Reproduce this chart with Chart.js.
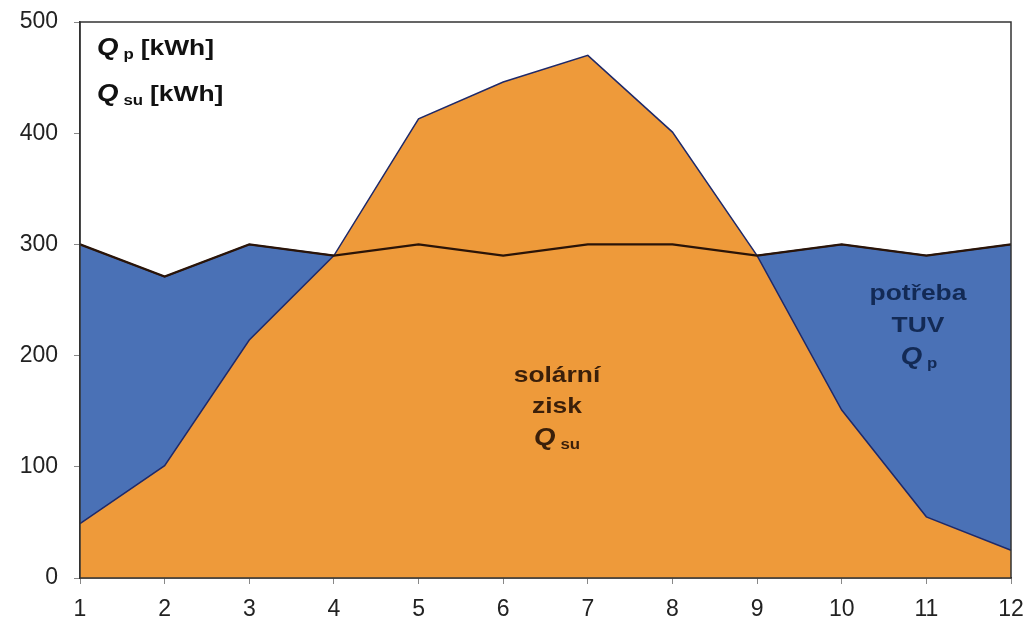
<!DOCTYPE html>
<html>
<head>
<meta charset="utf-8">
<script src="https://cdn.jsdelivr.net/npm/chart.js@4"></script>
<style>
  body { margin: 0; background: #fff; }
  #wrap { width: 1030px; height: 629px; }
</style>
</head>
<body>
<div id="wrap"><canvas id="myChart"></canvas></div>
<script>
// months
const months = ['1', '2', '3', '4', '5', '6', '7', '8', '9', '10', '11', '12'];
// potreba TUV Qp [kWh]
const qp = [300, 271, 300, 290, 300, 290, 300, 300, 290, 300, 290, 300];
// solarni zisk Qsu [kWh]
const qsu = [49, 101, 214, 290, 413, 446, 470, 401, 290, 151, 55, 25];
const yTicks = [0, 100, 200, 300, 400, 500];

const blue = '#4a71b6';
const orange = '#ee9a3a';
const fam = '"Liberation Sans", Arial, sans-serif';
const stretch = 1.2; // labels in the picture are a bit wide

// one line of text, stretched horizontally
function wideText(ctx, txt, x, y, font, color, align) {
    ctx.save();
    ctx.translate(x, y);
    ctx.scale(stretch, 1);
    ctx.font = font;
    ctx.fillStyle = color;
    ctx.textAlign = align;
    ctx.textBaseline = 'alphabetic';
    ctx.fillText(txt, 0, 0);
    ctx.restore();
}

// Q with subscript (and optional text after)
function drawQ(ctx, x, y, sub, rest, color, align) {
    const qFont = 'italic bold 23px ' + fam;
    const subFont = 'bold 14px ' + fam;
    const restFont = 'bold 22px ' + fam;
    ctx.font = qFont;
    const wq = ctx.measureText('Q').width * stretch;
    ctx.font = subFont;
    const ws = ctx.measureText(sub).width * stretch;
    ctx.font = restFont;
    const wr = rest ? ctx.measureText(rest).width * stretch : 0;
    let total = wq + 5 + ws + (rest ? 7 + wr : 0);
    let sx = align === 'center' ? x - total / 2 : x;
    wideText(ctx, 'Q', sx, y, qFont, color, 'left');
    wideText(ctx, sub, sx + wq + 5, y + 4, subFont, color, 'left');
    if (rest) {
        wideText(ctx, rest, sx + wq + 5 + ws + 7, y, restFont, color, 'left');
    }
}

const textPlugin = {
    id: 'texty',
    afterDatasetsDraw(chart) {
        const ctx = chart.ctx;
        const a = chart.chartArea;
        ctx.save();
        // frame box
        ctx.strokeStyle = '#333';
        ctx.lineWidth = 1.5;
        ctx.strokeRect(a.left, a.top, a.right - a.left, a.bottom - a.top);

        drawQ(ctx, 97, 55, 'p', '[kWh]', '#111', 'left');
        drawQ(ctx, 97, 101, 'su', '[kWh]', '#111', 'left');

        const lab = 'bold 22px ' + fam;
        wideText(ctx, 'solární', 557, 382, lab, '#3a1f0a', 'center');
        wideText(ctx, 'zisk', 557, 413, lab, '#3a1f0a', 'center');
        drawQ(ctx, 557, 445, 'su', null, '#3a1f0a', 'center');

        wideText(ctx, 'potřeba', 918, 300, lab, '#132a55', 'center');
        wideText(ctx, 'TUV', 918, 332, lab, '#132a55', 'center');
        drawQ(ctx, 919, 364, 'p', null, '#132a55', 'center');
        ctx.restore();
    }
};

const ctx = document.getElementById('myChart').getContext('2d');
const myChart = new Chart(ctx, {
    type: 'line',
    data: {
        labels: months,
        datasets: [
            {
                label: 'Qp area',
                data: qp,
                fill: 'origin',
                backgroundColor: blue,
                borderColor: '#1f2f5a',
                borderWidth: 1.5,
                pointRadius: 0,
                tension: 0,
                order: 3
            },
            {
                label: 'Qsu',
                data: qsu,
                fill: 'origin',
                backgroundColor: orange,
                borderColor: '#1f2a6a',
                borderWidth: 1.5,
                pointRadius: 0,
                tension: 0,
                order: 2
            },
            {
                label: 'Qp',
                data: qp,
                fill: false,
                borderColor: '#2a1408',
                borderWidth: 2.2,
                pointRadius: 0,
                tension: 0,
                order: 1
            }
        ]
    },
    options: {
        responsive: true,
        maintainAspectRatio: false,
        animation: false,
        layout: { padding: { left: 0, right: 19, top: 22, bottom: 0 } },
        plugins: {
            legend: { display: false },
            tooltip: { enabled: false }
        },
        scales: {
            x: {
                offset: false,
                afterFit: (scale) => {
                    scale.height = 51;
                    scale.paddingLeft = 0;
                    scale.paddingRight = 0;
                },
                grid: {
                    drawOnChartArea: false,
                    tickLength: 6,
                    color: '#888'
                },
                border: { color: '#333', width: 1.5 },
                ticks: {
                    color: '#222',
                    padding: 12,
                    maxRotation: 0,
                    autoSkip: false,
                    font: { size: 23, family: fam }
                }
            },
            y: {
                min: 0,
                max: 500,
                afterBuildTicks: (axis) => {
                    axis.ticks = yTicks.map(v => ({ value: v }));
                },
                afterFit: (scale) => {
                    scale.width = 80;
                    scale.paddingTop = 0;
                    scale.paddingBottom = 0;
                },
                grid: {
                    drawOnChartArea: false,
                    tickLength: 6,
                    color: '#888'
                },
                border: { color: '#333', width: 1.5 },
                ticks: {
                    color: '#222',
                    padding: 16,
                    font: { size: 23, family: fam }
                }
            }
        }
    },
    plugins: [textPlugin]
});
</script>
</body>
</html>
